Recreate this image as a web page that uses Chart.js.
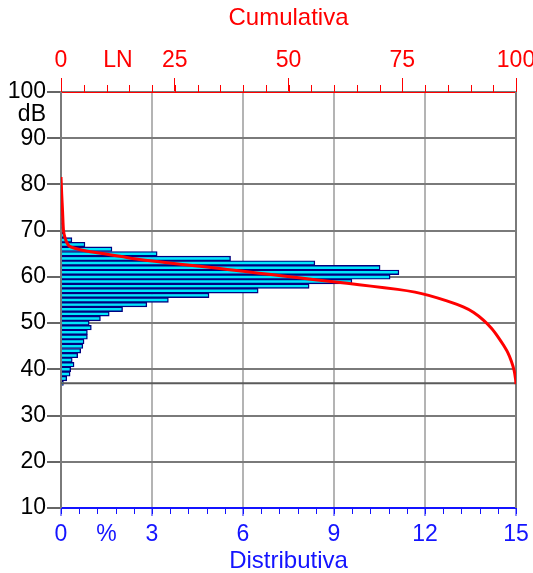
<!DOCTYPE html>
<html><head><meta charset="utf-8">
<script src="https://cdn.jsdelivr.net/npm/chart.js@4/dist/chart.umd.min.js"></script>
<style>html,body{margin:0;padding:0;background:#fff;}canvas{display:block;}</style>
</head><body>
<canvas id="c" width="533" height="573"></canvas>
<script>
// ---- data ----
const levelsDb = [37,38,39,40,41,42,43,44,45,46,47,48,49,50,51,52,53,54,55,56,57,58,59,60,61,62,63,64,65,66,67,68,69,70,71,72,73,74,75,76,77,78,79,80,81];
const distPct  = [0.08,0.19,0.30,0.32,0.43,0.37,0.55,0.65,0.72,0.76,0.87,0.87,1.00,0.93,1.30,1.59,2.03,2.83,3.54,4.88,6.50,8.18,9.59,10.85,11.14,10.52,8.37,5.59,3.17,1.68,0.79,0.36,0.12,0.07,0.03,0.03,0.03,0.03,0.03,0.03,0.03,0.03,0.03,0.03,0.03];
const cumDb  = [81.6,78,74,70,68.4,67.4,66.7,66.2,65.6,65.0,64.4,63.7,63.1,62.3,61.6,60.8,60.2,59.4,58.6,58.0,57.3,56.7,56.0,54.8,53.5,52.3,50.6,48.8,47.1,45.3,43.6,41.7,39.7,37.9,36.8];
const cumPct = [0,0.15,0.35,0.55,0.9,1.3,1.8,3.0,5.5,9.5,13.3,17.7,22.9,30.5,36.6,43.5,48.8,55.8,62.9,68.1,74.0,77.8,80.8,84.8,88.4,90.7,92.9,94.7,96.0,97.2,98.2,99.0,99.6,99.9,100];
const minLevelDb = 37;
const yTicks = [10,20,30,40,50,60,70,80,90,95,100];
const yUnit = {value:95, label:'dB'};
const bottomTicks = [0,1.5,3,6,9,12,15];
const bottomUnit = {value:1.5, label:'%'};
const bottomMinorCount = 25;   // minor ticks between 0 and 15
const topTicks = [0,12.5,25,50,75,100];
const topUnit = {value:12.5, label:'LN'};
const topMinorCount = 20;      // minor ticks between 0 and 100
const topTitle = 'Cumulativa';
const bottomTitle = 'Distributiva';

const FAM = '"Liberation Sans", Arial, Helvetica, sans-serif';
const RED = '#ff0000', BLUE = '#1414ff';

const decor = {
  id:'decor',
  beforeDatasetsDraw(chart){
    const {ctx, chartArea:a} = chart;
    ctx.save();
    ctx.strokeStyle = '#7a7a7a'; ctx.lineWidth = 2;
    ctx.beginPath();
    ctx.moveTo(a.right, a.top); ctx.lineTo(a.right, a.bottom);
    ctx.stroke();
    ctx.restore();
  },
  afterDraw(chart){
    const {ctx, chartArea:a, scales} = chart;
    ctx.save();
    ctx.lineWidth = 1;
    ctx.strokeStyle = BLUE;
    for (let i=0;i<=bottomMinorCount;i++){
      const x = Math.round(scales.x.getPixelForValue(15*i/bottomMinorCount))+0.5;
      ctx.beginPath(); ctx.moveTo(x,a.bottom); ctx.lineTo(x,a.bottom+6); ctx.stroke();
    }
    ctx.strokeStyle = RED;
    for (let i=0;i<=topMinorCount;i++){
      const x = Math.round(scales.x2.getPixelForValue(100*i/topMinorCount))+0.5;
      ctx.beginPath(); ctx.moveTo(x,a.top); ctx.lineTo(x,a.top-7); ctx.stroke();
    }
    ctx.restore();
  }
};

new Chart(document.getElementById('c'), {
  type:'bar',
  data:{
    datasets:[
      { type:'line', label:'cum', xAxisID:'x2', yAxisID:'y', indexAxis:'y',
        data: cumDb.map((d,i)=>({x:cumPct[i], y:d})),
        borderColor:RED, borderWidth:3, pointRadius:0, tension:0.2, fill:false },
      { type:'line', label:'min', xAxisID:'x', yAxisID:'y', indexAxis:'y',
        data:[{x:0,y:minLevelDb},{x:15,y:minLevelDb}],
        borderColor:'#5a5a5a', borderWidth:2, pointRadius:0, fill:false },
      { type:'bar', label:'dist', xAxisID:'x', yAxisID:'y',
        data: levelsDb.map((d,i)=>({x:distPct[i], y:d})),
        backgroundColor:'#00e6fc', borderColor:'#000080', borderWidth:1.4,
        categoryPercentage:1, barPercentage:1 }
    ]
  },
  options:{
    indexAxis:'y', responsive:false, animation:false,
    layout:{padding:{left:0,right:17,top:0,bottom:0}},
    plugins:{legend:{display:false}, tooltip:{enabled:false}},
    scales:{
      x:{ type:'linear', position:'bottom', min:0, max:15,
        afterBuildTicks:s=>{ s.ticks = bottomTicks.map(v=>({value:v})); },
        ticks:{ callback:v=> v===bottomUnit.value?bottomUnit.label:String(v), color:BLUE,
          font:{family:FAM,size:23}, padding:5, autoSkip:false, maxRotation:0, minRotation:0 },
        grid:{ color:c=> (c.tick && c.tick.value>0 && c.tick.value<15 && c.tick.value!==bottomUnit.value)?'#b4b4b4':'rgba(0,0,0,0)',
          lineWidth:2, tickLength:8, tickWidth:1,
          tickColor:c=> (c.tick && c.tick.value===bottomUnit.value)?'rgba(0,0,0,0)':BLUE },
        border:{ color:BLUE, width:2 },
        title:{ display:true, text:bottomTitle, color:BLUE, font:{family:FAM,size:24,lineHeight:1}, padding:{top:0,bottom:0} },
        afterFit:s=>{ s.height=65; s.paddingLeft=0; s.paddingRight=0; }
      },
      x2:{ type:'linear', position:'top', min:0, max:100,
        afterBuildTicks:s=>{ s.ticks = topTicks.map(v=>({value:v})); },
        ticks:{ callback:v=> v===topUnit.value?topUnit.label:String(v), color:RED,
          font:{family:FAM,size:23}, padding:4, autoSkip:false, maxRotation:0, minRotation:0 },
        grid:{ drawOnChartArea:false, tickLength:14, lineWidth:1,
          tickColor:c=> (c.tick && c.tick.value===topUnit.value)?'rgba(0,0,0,0)':RED },
        border:{ color:RED, width:1 },
        title:{ display:true, text:topTitle, color:RED, font:{family:FAM,size:24}, padding:{top:4,bottom:0} },
        afterFit:s=>{ s.height=92; s.paddingLeft=0; s.paddingRight=0; }
      },
      y:{ type:'linear', position:'left', min:10, max:100, offset:false,
        afterBuildTicks:s=>{ s.ticks = yTicks.map(v=>({value:v})); },
        ticks:{ callback:v=> v===yUnit.value?yUnit.label:String(v), color:'#000',
          font:{family:FAM,size:23}, padding:1, autoSkip:false },
        grid:{ offset:false, color:c=> (c.tick && c.tick.value===yUnit.value)?'rgba(0,0,0,0)':'#7a7a7a',
          lineWidth:2, tickLength:14, tickWidth:1.5,
          tickColor:c=> (c.tick && c.tick.value===yUnit.value)?'rgba(0,0,0,0)':'#333' },
        border:{ color:'#7a7a7a', width:2 },
        afterFit:s=>{ s.width=61; s.paddingTop=0; s.paddingBottom=0; }
      }
    }
  },
  plugins:[decor]
});
</script>
</body></html>
